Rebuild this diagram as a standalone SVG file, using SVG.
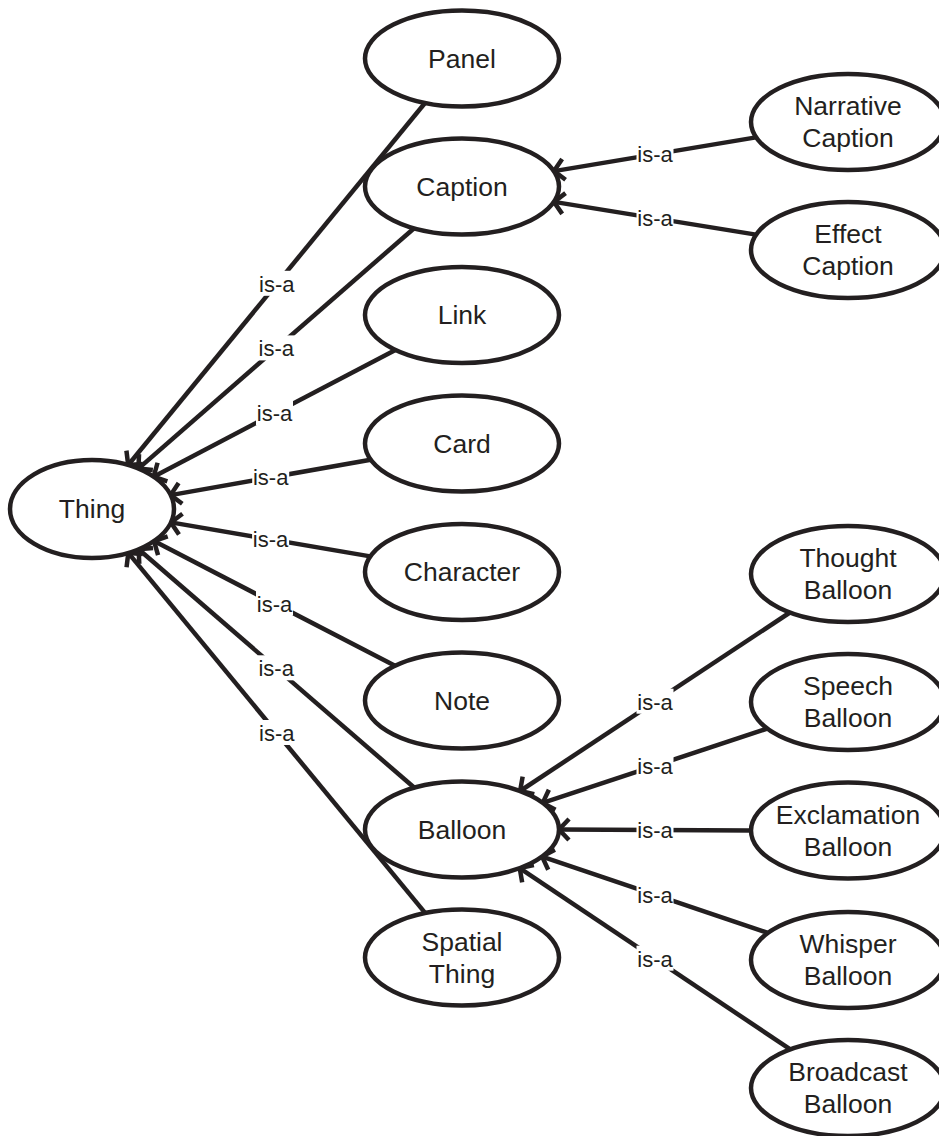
<svg xmlns="http://www.w3.org/2000/svg" width="939" height="1136" viewBox="0 0 939 1136">
<style>
.node ellipse{fill:#fff;stroke:#231f20;stroke-width:4.5}
.node text{font-family:"Liberation Sans",Arial,sans-serif;font-size:26.5px;fill:#231f20;text-anchor:middle}
.edge line{stroke:#231f20;stroke-width:4.5;marker-end:url(#arr)}
.lbl rect{fill:#fff}
.lbl text{font-family:"Liberation Sans",Arial,sans-serif;font-size:22px;fill:#231f20;text-anchor:middle}
</style>
<defs>
<marker id="arr" markerUnits="userSpaceOnUse" viewBox="-16 -16 20 32" refX="0" refY="0" markerWidth="20" markerHeight="32" orient="auto" overflow="visible">
<path d="M-10,-10.5 L0,0 L-10,10.5" fill="none" stroke="#231f20" stroke-width="4.5"/>
</marker>
</defs>
<rect width="939" height="1136" fill="#fff"/>
<g id="connectors">
<g class="edge">
<line x1="425.4" y1="102.5" x2="128.2" y2="465"/>
<line x1="414.1" y1="228.2" x2="138.4" y2="468.6"/>
<line x1="395.4" y1="349.9" x2="153.6" y2="476.7"/>
<line x1="370.7" y1="459.7" x2="170.6" y2="495.1"/>
<line x1="370.3" y1="556.4" x2="170.9" y2="522.4"/>
<line x1="395" y1="665.8" x2="154" y2="541.1"/>
<line x1="413.8" y1="787.3" x2="138.6" y2="549.3"/>
<line x1="425.3" y1="913.1" x2="128.3" y2="552.9"/>
<line x1="756" y1="137.4" x2="554" y2="171.1"/>
<line x1="756" y1="234.6" x2="554" y2="201.9"/>
<line x1="789.9" y1="612.5" x2="520.1" y2="791"/>
<line x1="767.3" y1="728.6" x2="542.7" y2="802.9"/>
<line x1="751" y1="830.5" x2="559" y2="829.5"/>
<line x1="767.9" y1="932.9" x2="542.1" y2="856.6"/>
<line x1="790.3" y1="1049.4" x2="519.7" y2="868.1"/>
</g>
<g class="lbl">
<rect x="258.3" y="270.8" width="37" height="25"/><text x="276.8" y="291.8">is-a</text>
<rect x="257.8" y="335.4" width="37" height="25"/><text x="276.3" y="356.4">is-a</text>
<rect x="256" y="400.3" width="37" height="25"/><text x="274.5" y="421.3">is-a</text>
<rect x="252.2" y="464.4" width="37" height="25"/><text x="270.7" y="485.4">is-a</text>
<rect x="252.1" y="526.4" width="37" height="25"/><text x="270.6" y="547.4">is-a</text>
<rect x="256" y="590.5" width="37" height="25"/><text x="274.5" y="611.5">is-a</text>
<rect x="257.7" y="655.3" width="37" height="25"/><text x="276.2" y="676.3">is-a</text>
<rect x="258.3" y="720" width="37" height="25"/><text x="276.8" y="741">is-a</text>
<rect x="636.5" y="141.3" width="37" height="25"/><text x="655" y="162.3">is-a</text>
<rect x="636.5" y="205.3" width="37" height="25"/><text x="655" y="226.3">is-a</text>
<rect x="636.5" y="688.7" width="37" height="25"/><text x="655" y="709.7">is-a</text>
<rect x="636.5" y="752.8" width="37" height="25"/><text x="655" y="773.8">is-a</text>
<rect x="636.5" y="817" width="37" height="25"/><text x="655" y="838">is-a</text>
<rect x="636.5" y="881.7" width="37" height="25"/><text x="655" y="902.7">is-a</text>
<rect x="636.5" y="945.7" width="37" height="25"/><text x="655" y="966.7">is-a</text>
</g>
</g>
<g id="thing" class="node"><ellipse cx="92" cy="509" rx="82" ry="49"/><text x="92" y="518">Thing</text></g>
<g id="panel" class="node"><ellipse cx="462" cy="58.5" rx="97" ry="48"/><text x="462" y="67.5">Panel</text></g>
<g id="caption" class="node"><ellipse cx="462" cy="186.5" rx="97" ry="48"/><text x="462" y="195.5">Caption</text></g>
<g id="link" class="node"><ellipse cx="462" cy="315" rx="97" ry="48"/><text x="462" y="324">Link</text></g>
<g id="card" class="node"><ellipse cx="462" cy="443.5" rx="97" ry="48"/><text x="462" y="452.5">Card</text></g>
<g id="character" class="node"><ellipse cx="462" cy="572" rx="97" ry="48"/><text x="462" y="581">Character</text></g>
<g id="note" class="node"><ellipse cx="462" cy="700.5" rx="97" ry="48"/><text x="462" y="709.5">Note</text></g>
<g id="balloon" class="node"><ellipse cx="462" cy="829.5" rx="97" ry="48"/><text x="462" y="838.5">Balloon</text></g>
<g id="spatial-thing" class="node"><ellipse cx="462" cy="957.5" rx="97" ry="48"/><text x="462" y="950.5">Spatial</text><text x="462" y="982.5">Thing</text></g>
<g id="narrative-caption" class="node"><ellipse cx="848" cy="122" rx="97" ry="48"/><text x="848" y="115">Narrative</text><text x="848" y="147">Caption</text></g>
<g id="effect-caption" class="node"><ellipse cx="848" cy="250" rx="97" ry="48"/><text x="848" y="243">Effect</text><text x="848" y="275">Caption</text></g>
<g id="thought-balloon" class="node"><ellipse cx="848" cy="574" rx="97" ry="48"/><text x="848" y="567">Thought</text><text x="848" y="599">Balloon</text></g>
<g id="speech-balloon" class="node"><ellipse cx="848" cy="702" rx="97" ry="48"/><text x="848" y="695">Speech</text><text x="848" y="727">Balloon</text></g>
<g id="exclamation-balloon" class="node"><ellipse cx="848" cy="830.5" rx="97" ry="48"/><text x="848" y="823.5">Exclamation</text><text x="848" y="855.5">Balloon</text></g>
<g id="whisper-balloon" class="node"><ellipse cx="848" cy="960" rx="97" ry="48"/><text x="848" y="953">Whisper</text><text x="848" y="985">Balloon</text></g>
<g id="broadcast-balloon" class="node"><ellipse cx="848" cy="1088" rx="97" ry="48"/><text x="848" y="1081">Broadcast</text><text x="848" y="1113">Balloon</text></g>
</svg>
